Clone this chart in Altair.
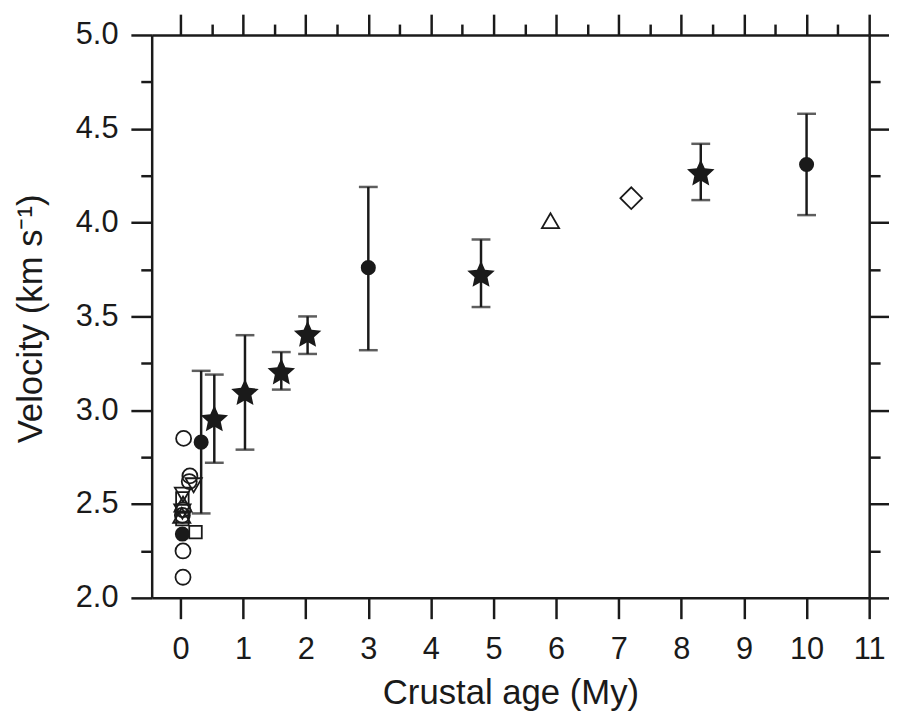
import math
import altair as alt
import pandas as pd

# ---------------- data ----------------
# filled circles with error bars
circ_age = [0.33, 3.00, 10.00]
circ_vel = [2.83, 3.76, 4.31]
circ_lo = [2.45, 3.32, 4.04]
circ_hi = [3.21, 4.19, 4.58]

# filled stars with error bars
star_age = [0.54, 1.03, 1.61, 2.03, 4.80, 8.31]
star_vel = [2.95, 3.09, 3.20, 3.40, 3.72, 4.26]
star_lo = [2.72, 2.79, 3.11, 3.30, 3.55, 4.12]
star_hi = [3.19, 3.40, 3.31, 3.50, 3.91, 4.42]

# filled circle without error bar
fcirc_age = [0.03]
fcirc_vel = [2.34]

# open symbols
ocirc_age = [0.05, 0.15, 0.14, 0.04, 0.03, 0.04, 0.04]
ocirc_vel = [2.85, 2.65, 2.62, 2.47, 2.44, 2.25, 2.11]
osq_age = [0.03, 0.03, 0.24]
osq_vel = [2.53, 2.42, 2.35]
otriup_age = [0.04, 0.02, 5.91]
otriup_vel = [2.50, 2.44, 4.01]
otridn_age = [0.21, 0.04, 0.03]
otridn_vel = [2.60, 2.55, 2.46]
odia_age = [7.20]
odia_vel = [4.13]

x_ticks = [i * 0.5 for i in range(0, 23)]
y_ticks = [2.0 + i * 0.25 for i in range(0, 13)]

# ---------------- styling ----------------
FONT = "Liberation Sans"
INK = "#1a1a1a"

# 5-pointed star path in the -1..1 box
pts = []
for k in range(10):
    ang = math.radians(-90 + 36 * k)
    r = 1.0 if k % 2 == 0 else 0.47
    pts.append((r * math.cos(ang), r * math.sin(ang)))
STAR = "M" + " L".join(f"{x:.4f},{y:.4f}" for x, y in pts) + " Z"

xscale = alt.Scale(domain=[-0.46, 11], nice=False, zero=False)
yscale = alt.Scale(domain=[2.0, 5.0], nice=False, zero=False)

x_major_test = "datum.value % 1 === 0"
y_major_test = "(datum.value * 2) % 1 === 0"

common_axis = dict(
    grid=False,
    domainColor=INK,
    domainWidth=2.5,
    tickColor=INK,
    tickWidth=2.5,
    labelFont=FONT,
    labelFontSize=31,
    labelColor=INK,
    labelOverlap=False,
    labelFlush=False,
    titleFont=FONT,
    titleFontSize=35,
    titleColor=INK,
    titleFontWeight="normal",
)

x_bottom = alt.Axis(
    orient="bottom",
    values=x_ticks,
    format="d",
    tickSize={"condition": {"test": x_major_test, "value": 21}, "value": 11},
    labelExpr=f"{x_major_test} ? format(datum.value, 'd') : ''",
    labelPadding=16,
    title="Crustal age (My)",
    titleX=362,
    titleY=107,
    titleAlign="center",
    titleBaseline="alphabetic",
    **common_axis,
)
y_left = alt.Axis(
    orient="left",
    values=y_ticks,
    format=".1f",
    tickSize={"condition": {"test": y_major_test, "value": 21}, "value": 11},
    labelExpr=f"{y_major_test} ? format(datum.value, '.1f') : ''",
    labelPadding=13,
    title="Velocity (km s\u207b\u00b9)",
    titleAngle=-90,
    titleX=-111,
    titleY=286,
    titleAlign="center",
    titleBaseline="alphabetic",
    **common_axis,
)
x_top = alt.Axis(
    orient="top",
    values=x_ticks,
    tickSize={"condition": {"test": x_major_test, "value": 21}, "value": 11},
    labels=False,
    title=None,
    **common_axis,
)
y_right = alt.Axis(
    orient="right",
    values=y_ticks,
    tickSize={"condition": {"test": y_major_test, "value": 21}, "value": 11},
    labels=False,
    title=None,
    **common_axis,
)

# ---------------- tables ----------------
err = pd.DataFrame({
    "age": circ_age + star_age,
    "vel": circ_vel + star_vel,
    "lo": circ_lo + star_lo,
    "hi": circ_hi + star_hi,
})
circ = pd.DataFrame({"age": circ_age + fcirc_age, "vel": circ_vel + fcirc_vel})
star = pd.DataFrame({"age": star_age, "vel": star_vel})
ocirc = pd.DataFrame({"age": ocirc_age, "vel": ocirc_vel})
osq = pd.DataFrame({"age": osq_age, "vel": osq_vel})
otriup = pd.DataFrame({"age": otriup_age, "vel": otriup_vel})
otridn = pd.DataFrame({"age": otridn_age, "vel": otridn_vel})
odia = pd.DataFrame({"age": odia_age, "vel": odia_vel})


def X(axis=None):
    if axis is None:
        return alt.X("age:Q", scale=xscale, axis=None)
    return alt.X("age:Q", scale=xscale, axis=axis)


def Y(field="vel", axis=None):
    if axis is None:
        return alt.Y(f"{field}:Q", scale=yscale, axis=None)
    return alt.Y(f"{field}:Q", scale=yscale, axis=axis)


bars = alt.Chart(err).mark_rule(color=INK, strokeWidth=2.5).encode(
    x=X(x_bottom), y=Y("lo", y_left), y2="hi:Q"
)
cap_lo = alt.Chart(err).mark_tick(color=INK, orient="horizontal", size=19, thickness=2.5).encode(
    x=X(), y=Y("lo")
)
cap_hi = alt.Chart(err).mark_tick(color=INK, orient="horizontal", size=19, thickness=2.5).encode(
    x=X(), y=Y("hi")
)
frame = alt.Chart(err).mark_point(opacity=0).encode(x=X(x_top), y=Y("vel", y_right))


def open_layer(df, shape, size):
    return alt.Chart(df).mark_point(
        shape=shape, size=size, filled=False, color=INK, strokeWidth=1.8, opacity=1
    ).encode(x=X(), y=Y())


o1 = open_layer(ocirc, "circle", 230)
o2 = open_layer(osq, "square", 160)
o3 = open_layer(otriup, "triangle-up", 300)
o4 = open_layer(otridn, "triangle-down", 270)
o5 = open_layer(odia, "diamond", 480)

fc = alt.Chart(circ).mark_point(shape="circle", size=230, filled=True, color=INK, opacity=1).encode(
    x=X(), y=Y()
)
st = alt.Chart(star).mark_point(shape=STAR, size=850, filled=True, color=INK, opacity=1).encode(
    x=X(), y=Y()
)

chart = (
    alt.layer(bars, frame, cap_lo, cap_hi, o1, o2, o3, o4, o5, fc, st)
    .resolve_axis(x="independent", y="independent")
    .properties(
        width=724,
        height=568,
        autosize=alt.AutoSizeParams(type="none"),
        padding={"left": 145, "top": 24, "right": 20, "bottom": 118},
        background="white",
    )
    .configure_view(strokeWidth=0)
)

chart.save("out.html", embed_options={"renderer": "svg", "actions": False})
